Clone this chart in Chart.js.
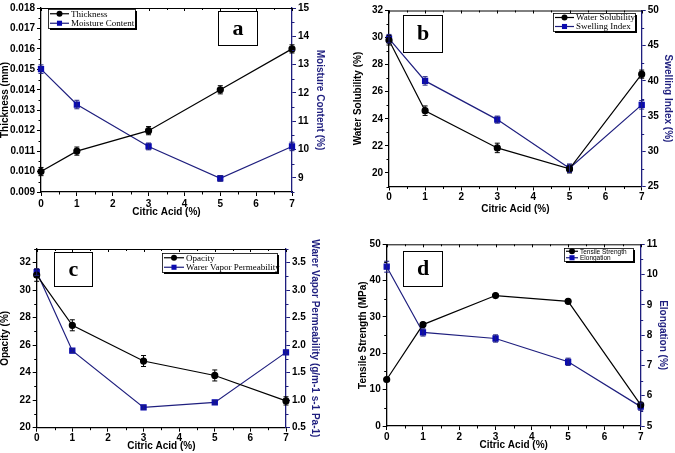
<!DOCTYPE html>
<html><head><meta charset="utf-8">
<script src="https://cdn.jsdelivr.net/npm/chart.js@4/dist/chart.umd.min.js"></script>
<style>
html,body{margin:0;padding:0;background:#fff;width:675px;height:453px;overflow:hidden}
canvas{position:absolute;display:block}
</style></head><body>
<canvas id="ca"></canvas>
<canvas id="cb"></canvas>
<canvas id="cc"></canvas>
<canvas id="cd"></canvas>
<script>
// ---------- data ----------
const citricAcid = [0, 1, 3, 5, 7];
const xTicks = [0, 1, 2, 3, 4, 5, 6, 7];
const xTitle = 'Citric Acid (%)';

// (a)
const thickness = [0.0100, 0.0110, 0.0120, 0.0140, 0.0160];
const thicknessErr = [0.0002, 0.0002, 0.0002, 0.0002, 0.0002];
const moisture = [12.84, 11.59, 10.11, 8.98, 10.11];
const moistureErr = [0.15, 0.15, 0.12, 0.1, 0.15];
const thicknessTicks = [0.009, 0.010, 0.011, 0.012, 0.013, 0.014, 0.015, 0.016, 0.017, 0.018];
const moistureTicks = [9, 10, 11, 12, 13, 14, 15];

// (b)
const waterSolubility = [29.8, 24.6, 21.85, 20.3, 27.3];
const waterSolubilityErr = [0.35, 0.35, 0.35, 0.3, 0.3];
const swellingIndex = [46.0, 40.0, 34.5, 27.6, 36.6];
const swellingIndexErr = [0.6, 0.6, 0.5, 0.6, 0.6];
const solubilityTicks = [20, 22, 24, 26, 28, 30, 32];
const swellingTicks = [25, 30, 35, 40, 45, 50];

// (c)
const opacity = [31.1, 27.45, 24.85, 23.8, 21.95];
const opacityErr = [0.45, 0.4, 0.4, 0.4, 0.3];
const wvp = [3.33, 1.9, 0.87, 0.96, 1.87];
const wvpErr = [0.06, 0.03, 0.03, 0.03, 0.03];
const opacityTicks = [20, 22, 24, 26, 28, 30, 32];
const wvpTicks = [0.5, 1.0, 1.5, 2.0, 2.5, 3.0, 3.5];

// (d)
const tensile = [12.8, 27.9, 35.9, 34.3, 5.8];
const tensileErr = [0.5, 0.5, 0.5, 0.5, 0.5];
const elongation = [10.26, 8.09, 7.89, 7.12, 5.64];
const elongationErr = [0.18, 0.12, 0.12, 0.12, 0.12];
const tensileTicks = [0, 10, 20, 30, 40, 50];
const elongationTicks = [5, 6, 7, 8, 9, 10, 11];

// ---------- styles ----------
const NAVY = '#1e1e7e';
const MARK_BLUE = '#0b0bb0';
const SANS = 'Liberation Sans';
const SERIF = 'Liberation Serif';

function pts(arr) { return citricAcid.map((x, i) => ({ x: x, y: arr[i] })); }

function drawMarker(ctx, style, x, y, r, color) {
  ctx.save();
  ctx.fillStyle = color; ctx.strokeStyle = color;
  ctx.beginPath();
  if (style === 'rect') { const s = r * Math.SQRT1_2; ctx.rect(x - s, y - s, 2 * s, 2 * s); }
  else ctx.arc(x, y, r, 0, Math.PI * 2);
  ctx.fill();
  ctx.restore();
}

const decor = {
  id: 'decor',
  afterDatasetsDraw(chart) {
    const ctx = chart.ctx;
    chart.data.datasets.forEach((ds, i) => {
      if (!ds.errors) return;
      const meta = chart.getDatasetMeta(i);
      const ys = chart.scales[ds.yAxisID];
      ctx.save();
      ctx.strokeStyle = ds.borderColor; ctx.lineWidth = 1;
      meta.data.forEach((pt, j) => {
        const v = ds.values[j], e = ds.errors[j];
        const y1 = ys.getPixelForValue(v + e), y2 = ys.getPixelForValue(v - e);
        ctx.beginPath();
        ctx.moveTo(pt.x, y1); ctx.lineTo(pt.x, y2);
        ctx.moveTo(pt.x - 2.5, y1); ctx.lineTo(pt.x + 2.5, y1);
        ctx.moveTo(pt.x - 2.5, y2); ctx.lineTo(pt.x + 2.5, y2);
        ctx.stroke();
      });
      ctx.restore();
    });
  },
  afterDraw(chart, args, o) {
    const ctx = chart.ctx, ca = chart.chartArea;
    ctx.save();
    ctx.lineWidth = 1;
    // minor ticks
    function minors(scale) {
      const t = scale.ticks.map(t => t.value);
      const step = t[1] - t[0];
      const out = [];
      for (let v = t[0] - step / 2; v <= scale.max + 1e-9; v += step) if (v >= scale.min - 1e-9) out.push(v);
      return out;
    }
    const xs = chart.scales.x, yl = chart.scales.y, yr = chart.scales.y1;
    ctx.strokeStyle = '#000';
    ctx.beginPath();
    minors(xs).forEach(v => { const p = Math.round(xs.getPixelForValue(v)) + 0.5; ctx.moveTo(p, ca.bottom); ctx.lineTo(p, ca.bottom + 2.5); });
    minors(yl).forEach(v => { const p = Math.round(yl.getPixelForValue(v)) + 0.5; ctx.moveTo(ca.left, p); ctx.lineTo(ca.left - 2.5, p); });
    // top border with inward ticks
    ctx.moveTo(ca.left, ca.top + 0.5); ctx.lineTo(ca.right, ca.top + 0.5);
    xs.ticks.forEach(t => { const p = Math.round(xs.getPixelForValue(t.value)) + 0.5; ctx.moveTo(p, ca.top); ctx.lineTo(p, ca.top + 3); });
    minors(xs).forEach(v => { const p = Math.round(xs.getPixelForValue(v)) + 0.5; ctx.moveTo(p, ca.top); ctx.lineTo(p, ca.top + 2); });
    ctx.stroke();
    ctx.strokeStyle = NAVY;
    ctx.beginPath();
    minors(yr).forEach(v => { const p = Math.round(yr.getPixelForValue(v)) + 0.5; ctx.moveTo(ca.right, p); ctx.lineTo(ca.right + 2.5, p); });
    ctx.stroke();

    // letter box
    const B = o.box;
    ctx.fillStyle = '#fff';
    ctx.fillRect(B.x, B.y, B.w, B.h);
    ctx.strokeStyle = '#000'; ctx.lineWidth = 1;
    ctx.strokeRect(B.x + 0.5, B.y + 0.5, B.w, B.h);
    ctx.fillStyle = '#000';
    ctx.font = 'bold 22px "' + SERIF + '"';
    ctx.textAlign = 'center'; ctx.textBaseline = 'middle';
    ctx.fillText(o.letter, B.x + B.w / 2 + 0.5, B.y + B.h / 2 + 1);

    // legend
    const L = o.legend;
    ctx.fillStyle = '#000';
    ctx.fillRect(L.x + 2, L.y + 2, L.w, L.h);
    ctx.fillStyle = '#fff';
    ctx.fillRect(L.x, L.y, L.w, L.h);
    ctx.strokeStyle = '#000'; ctx.lineWidth = 0.8;
    ctx.strokeRect(L.x + 0.5, L.y + 0.5, L.w, L.h);
    ctx.font = L.font;
    ctx.textAlign = 'left'; ctx.textBaseline = 'middle';
    chart.data.datasets.forEach((ds, i) => {
      const cy = L.y + L.pad + L.rowH * (i + 0.5);
      const x0 = L.x + 2, x1 = x0 + L.sample;
      ctx.strokeStyle = ds.borderColor; ctx.lineWidth = 1.2;
      ctx.beginPath(); ctx.moveTo(x0, cy); ctx.lineTo(x1, cy); ctx.stroke();
      drawMarker(ctx, ds.pointStyle, (x0 + x1) / 2, cy, ds.pointRadius, ds.pointBackgroundColor);
      ctx.fillStyle = '#000';
      ctx.fillText(ds.label, x1 + 2, cy + 0.5);
    });
    ctx.restore();
  }
};

function makePanel(id, P) {
  const cv = document.getElementById(id);
  cv.width = P.w; cv.height = P.h;
  cv.style.left = P.left + 'px'; cv.style.top = P.top + 'px';
  cv.style.width = P.w + 'px'; cv.style.height = P.h + 'px';
  const tickFont = { family: SANS, size: 10, weight: 'bold' };
  const titleFont = { family: SANS, size: 10, weight: 'bold' };
  const fixTicks = arr => scale => { scale.ticks = arr.map(v => ({ value: v })); };
  new Chart(cv, {
    type: 'line',
    data: {
      datasets: [
        {
          label: P.s1.label, data: pts(P.s1.values), values: P.s1.values, errors: P.s1.err,
          yAxisID: 'y', borderColor: '#000', backgroundColor: '#000',
          pointBackgroundColor: '#000', pointBorderColor: '#000', pointStyle: 'circle',
          pointRadius: 3, borderWidth: 1.2, tension: 0, clip: false
        },
        {
          label: P.s2.label, data: pts(P.s2.values), values: P.s2.values, errors: P.s2.err,
          yAxisID: 'y1', borderColor: NAVY, backgroundColor: MARK_BLUE,
          pointBackgroundColor: MARK_BLUE, pointBorderColor: MARK_BLUE, pointStyle: 'rect',
          pointRadius: 3.6, borderWidth: 1.2, tension: 0, clip: false
        }
      ]
    },
    options: {
      responsive: false, animation: false, devicePixelRatio: 1,
      layout: { padding: { top: P.padTop, left: 0, right: 0, bottom: 0 } },
      plugins: { legend: { display: false }, tooltip: { enabled: false },
        decor: { letter: P.letter, box: P.box, legend: P.legend } },
      scales: {
        x: {
          type: 'linear', position: 'bottom', min: 0, max: 7,
          afterBuildTicks: fixTicks(xTicks),
          afterFit: s => { s.height = P.xH; },
          grid: { display: true, drawOnChartArea: false, drawTicks: true, tickLength: 4, color: '#000', tickWidth: 1 },
          border: { display: true, color: '#000', width: 1.3 },
          ticks: { font: tickFont, color: '#000', padding: P.xTickPad, maxRotation: 0 },
          title: { display: true, text: xTitle, font: titleFont, color: '#000', padding: { top: 0, bottom: P.xTitlePad } }
        },
        y: {
          type: 'linear', position: 'left', min: P.yL.min, max: P.yL.max,
          afterBuildTicks: fixTicks(P.yL.ticks),
          afterFit: s => { s.width = P.yLW; },
          grid: { display: true, drawOnChartArea: false, drawTicks: true, tickLength: 4, color: '#000', tickWidth: 1 },
          border: { display: true, color: '#000', width: 1.3 },
          ticks: { font: tickFont, color: '#000', padding: 2, callback: P.yL.fmt },
          title: { display: true, text: P.yL.title, font: titleFont, color: '#000', padding: { top: P.yLTitlePad, bottom: 0 } }
        },
        y1: {
          type: 'linear', position: 'right', min: P.yR.min, max: P.yR.max,
          afterBuildTicks: fixTicks(P.yR.ticks),
          afterFit: s => { s.width = P.yRW; },
          grid: { display: true, drawOnChartArea: false, drawTicks: true, tickLength: 4, color: NAVY, tickWidth: 1 },
          border: { display: true, color: NAVY, width: 1.3 },
          ticks: { font: tickFont, color: '#000', padding: 2, callback: P.yR.fmt },
          title: { display: true, text: P.yR.title, font: titleFont, color: NAVY, padding: { top: P.yRTitlePad, bottom: 0 } }
        }
      }
    },
    plugins: [decor]
  });
}

const fmt0 = v => String(v);
const fmt1 = v => v.toFixed(1);
const fmt3 = v => v.toFixed(3);

makePanel('ca', {
  left: 0, top: 0, w: 326, h: 220, padTop: 6, yLW: 41, yRW: 34, xH: 28,
  xTickPad: 2, xTitlePad: 2, yLTitlePad: -1, yRTitlePad: 0,
  yL: { min: 0.009, max: 0.018, ticks: thicknessTicks, fmt: fmt3, title: 'Thickness (mm)' },
  yR: { min: 8.5, max: 15, ticks: moistureTicks, fmt: fmt0, title: 'Moisture Content (%)' },
  s1: { label: 'Thickness', values: thickness, err: thicknessErr },
  s2: { label: 'Moisture Content', values: moisture, err: moistureErr },
  letter: 'a', box: { x: 218, y: 11, w: 39, h: 34 },
  legend: { x: 48, y: 9, w: 87, h: 19, pad: 0, rowH: 9.5, sample: 19, font: '9px "' + SERIF + '"' }
});

makePanel('cb', {
  left: 346, top: 0, w: 329, h: 216, padTop: 10.5, yLW: 43, yRW: 33.3, xH: 29.5,
  xTickPad: 1, xTitlePad: 1, yLTitlePad: 6, yRTitlePad: 1,
  yL: { min: 19, max: 32, ticks: solubilityTicks, fmt: fmt0, title: 'Water Solubility (%)' },
  yR: { min: 25, max: 50, ticks: swellingTicks, fmt: fmt0, title: 'Swelling Index (%)' },
  s1: { label: 'Water Solubility', values: waterSolubility, err: waterSolubilityErr },
  s2: { label: 'Swelling Index', values: swellingIndex, err: swellingIndexErr },
  letter: 'b', box: { x: 57, y: 15, w: 39, h: 37 },
  legend: { x: 207, y: 13, w: 82, h: 18, pad: 0, rowH: 9, sample: 19, font: '9px "' + SERIF + '"' }
});

makePanel('cc', {
  left: 0, top: 225, w: 321, h: 228, padTop: 24, yLW: 36.7, yRW: 35, xH: 25.3,
  xTickPad: 1, xTitlePad: 1, yLTitlePad: -1, yRTitlePad: 0,
  yL: { min: 20, max: 33, ticks: opacityTicks, fmt: fmt0, title: 'Opacity (%)' },
  yR: { min: 0.5, max: 3.75, ticks: wvpTicks, fmt: fmt1, title: 'Warer Vapor Permeability (g/m-1 s-1 Pa-1)' },
  s1: { label: 'Opacity', values: opacity, err: opacityErr },
  s2: { label: 'Warer Vapor Permeability', values: wvp, err: wvpErr },
  letter: 'c', box: { x: 54, y: 27, w: 38, h: 34 },
  legend: { x: 162, y: 28, w: 115, h: 19, pad: 0, rowH: 9.5, sample: 20, font: '9px "' + SERIF + '"' }
});

makePanel('cd', {
  left: 345, top: 225, w: 324, h: 228, padTop: 19.3, yLW: 41.7, yRW: 28.3, xH: 27,
  xTickPad: 1, xTitlePad: 2, yLTitlePad: 12, yRTitlePad: 0,
  yL: { min: 0, max: 50, ticks: tensileTicks, fmt: fmt0, title: 'Tensile Strength (MPa)' },
  yR: { min: 5, max: 11, ticks: elongationTicks, fmt: fmt0, title: 'Elongation (%)' },
  s1: { label: 'Tensile Strength', values: tensile, err: tensileErr },
  s2: { label: 'Elongation', values: elongation, err: elongationErr },
  letter: 'd', box: { x: 58, y: 26, w: 39, h: 35 },
  legend: { x: 219, y: 23, w: 69, h: 13, pad: 0, rowH: 6.5, sample: 12, font: '6.5px "' + SANS + '"' }
});
</script>
</body></html>
